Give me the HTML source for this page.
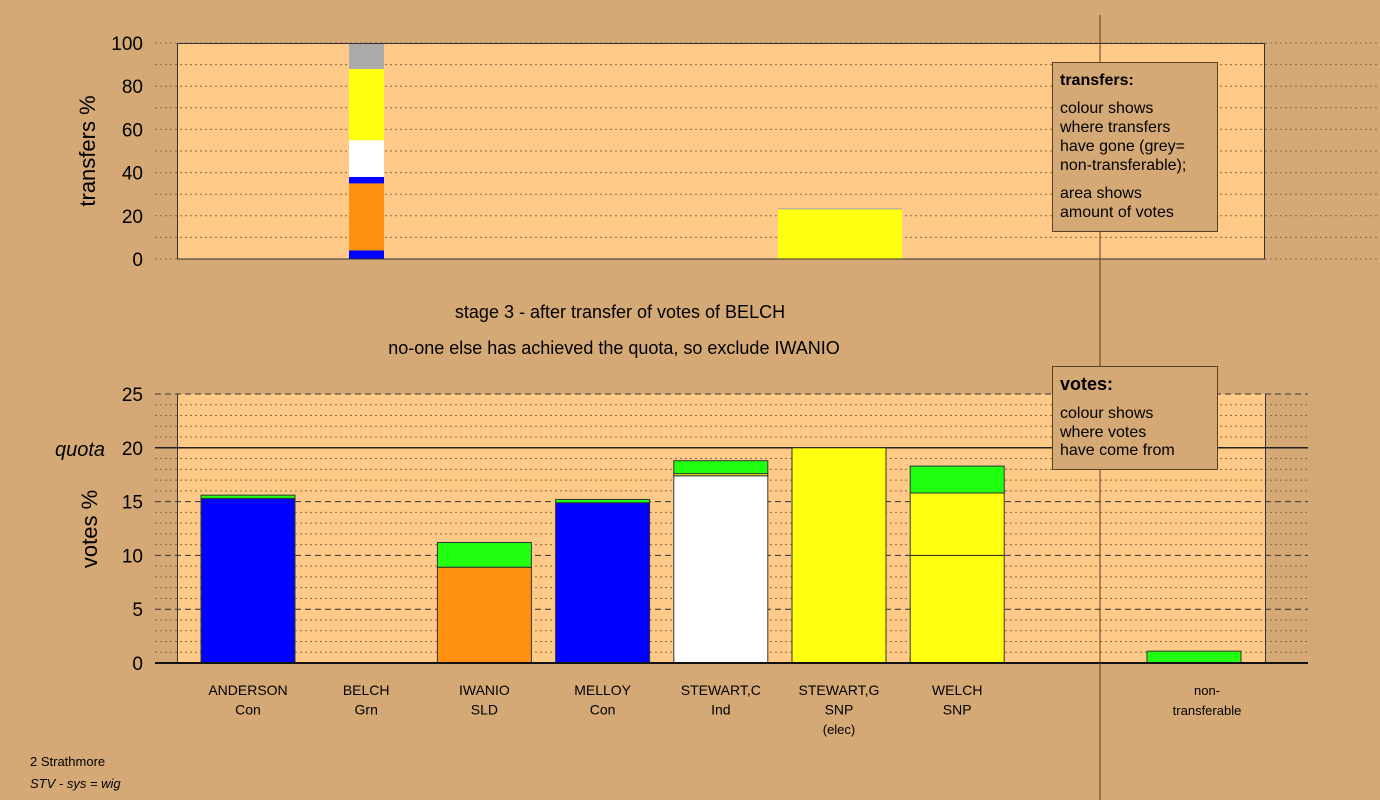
<!DOCTYPE html>
<html><head><meta charset="utf-8"><style>
body{margin:0;background:#d4a975;}
svg{display:block;font-family:"Liberation Sans",sans-serif;}
</style></head><body>
<svg width="1380" height="800" xmlns="http://www.w3.org/2000/svg">
<rect width="1380" height="800" fill="#d4a975"/>
<g id="topchart"></g>
<g id="botchart"></g>
<line x1="1100" y1="15" x2="1100" y2="800" stroke="#5a4020" stroke-width="1"/>
<text x="620" y="318" font-size="18" text-anchor="middle">stage 3 - after transfer of votes of BELCH</text>
<text x="614" y="354" font-size="18" text-anchor="middle">no-one else has achieved the quota, so exclude IWANIO</text>
<text transform="translate(95,151) rotate(-90)" font-size="22" text-anchor="middle">transfers %</text>
<text transform="translate(97,529) rotate(-90)" font-size="22" text-anchor="middle">votes %</text>
<text x="55" y="456" font-size="20" font-style="italic">quota</text>
<g>
<rect x="1052.5" y="62.5" width="165" height="169" fill="#d4a975" stroke="#5a4020"/>
<text x="1060" y="85" font-size="16" font-weight="bold">transfers:</text>
<text font-size="16"><tspan x="1060" y="113">colour shows</tspan><tspan x="1060" y="132">where transfers</tspan><tspan x="1060" y="151">have gone (grey=</tspan><tspan x="1060" y="170">non-transferable);</tspan><tspan x="1060" y="198">area shows</tspan><tspan x="1060" y="217">amount of votes</tspan></text>
</g>
<g>
<rect x="1052.5" y="366.5" width="165" height="103" fill="#d4a975" stroke="#5a4020"/>
<text x="1060" y="390" font-size="18" font-weight="bold">votes:</text>
<text font-size="16"><tspan x="1060" y="418">colour shows</tspan><tspan x="1060" y="437">where votes</tspan><tspan x="1060" y="455">have come from</tspan></text>
</g>
<text x="30" y="766" font-size="13">2 Strathmore</text>
<text x="30" y="788" font-size="13" font-style="italic">STV - sys = wig</text>
<script>
const NS="http://www.w3.org/2000/svg";
const candidates=["ANDERSON","BELCH","IWANIO","MELLOY","STEWART,C","STEWART,G","WELCH"];
const parties=["Con","Grn","SLD","Con","Ind","SNP","SNP"];
const notes=["","","","","","(elec)",""];
const voteBase=[15.3,0,8.9,14.9,17.4,20,10];
const voteBaseColor=["#0000ff","#ff9010","#ff9010","#0000ff","#ffffff","#ffff10","#ffff10"];
const voteMid=[0,0,0,0,0.2,0,5.8];
const voteMidColor=["#ffff10","#ffff10","#ffff10","#ffff10","#ffff10","#ffff10","#ffff10"];
const voteGreen=[0.3,0,2.3,0.3,1.2,0,2.5];
const nonTransferable=[1.1];
const quota=20;
const botTicks=[0,5,10,15,20,25];
const transferBelch=[4,31,3,17,33,12];
const transferBelchColors=["#0000ff","#ff9010","#0000ff","#ffffff","#ffff10","#aaaaaa"];
const transferStewartG=[23,0.5];
const transferStewartGColors=["#ffff10","#aaaaaa"];
const topTicks=[0,20,40,60,80,100];

function mk(p,tag,attrs){const e=document.createElementNS(NS,tag);for(const k in attrs)e.setAttribute(k,attrs[k]);p.appendChild(e);return e;}
const gTop=document.getElementById('topchart'),gBot=document.getElementById('botchart');
const ty=v=>259-v*2.16;
mk(gTop,'rect',{x:177,y:43,width:1088,height:216,fill:'#ffc988'});
for(let v=0;v<=100;v+=10){const l=mk(gTop,'line',{x1:155,x2:1380,y1:ty(v),y2:ty(v),stroke:'#8a6a40','stroke-dasharray':'2,3'});

}
topTicks.forEach(v=>{const t=mk(gTop,'text',{x:143,y:ty(v)+7,'font-size':19,'text-anchor':'end'});t.textContent=v;

});
function stack(g,x,w,vals,cols,name){let acc=0;vals.forEach((v,i)=>{const r=mk(g,'rect',{x:x,y:ty(acc+v),width:w,height:v*2.16,fill:cols[i]});

acc+=v;});}
stack(gTop,349,35,transferBelch,transferBelchColors,'transfer-segment-belch');
stack(gTop,778,124,transferStewartG,transferStewartGColors,'transfer-segment-stewart-g');
mk(gTop,'rect',{x:177.5,y:43.5,width:1087,height:215.5,fill:'none',stroke:'#333'});
const by=v=>663-v*10.76;
mk(gBot,'rect',{x:177,y:394,width:1088,height:269,fill:'#ffc988'});
for(let v=1;v<25;v++){if(v%5==0)continue;const l=mk(gBot,'line',{x1:155,x2:1308,y1:by(v),y2:by(v),stroke:'#8a6a40','stroke-dasharray':'2,3'});

}
[5,10,15,25].forEach(v=>{const l=mk(gBot,'line',{x1:155,x2:1308,y1:by(v),y2:by(v),stroke:'#333','stroke-dasharray':'6,4'});

});
mk(gBot,'line',{x1:177.5,x2:177.5,y1:394,y2:663,stroke:'#333'});
mk(gBot,'line',{x1:1265.5,x2:1265.5,y1:394,y2:663,stroke:'#333'});
const q=mk(gBot,'line',{x1:155,x2:1308,y1:by(quota),y2:by(quota),stroke:'#222','stroke-width':1.5});


botTicks.forEach(v=>{const t=mk(gBot,'text',{x:143,y:by(v)+7,'font-size':19,'text-anchor':'end'});t.textContent=v;

});
function seg(x,w,a,b,c,name){if(b<=0)return;const r=mk(gBot,'rect',{x:x,y:by(a+b),width:w,height:b*10.76,fill:c,stroke:'#333','stroke-width':1});

}
candidates.forEach((c,i)=>{const cx=248+i*118.2,x=cx-47;
seg(x,94,0,voteBase[i],voteBaseColor[i],'bar-base');
seg(x,94,voteBase[i],voteMid[i],voteMidColor[i],'bar-mid');
seg(x,94,voteBase[i]+voteMid[i],voteGreen[i],'#20ff10','bar-green');
const t=mk(gBot,'text',{x:cx,y:695,'font-size':14,'text-anchor':'middle'});


[c,parties[i],notes[i]].forEach((s,k)=>{if(!s)return;const sp=mk(t,'tspan',{x:cx,y:695+k*19.5,'font-size':k==2?13:14});sp.textContent=s;});
});
seg(1147,94,0,nonTransferable[0],'#20ff10','bar-non-transferable');
const nt=mk(gBot,'text',{x:1207,y:695,'font-size':13,'text-anchor':'middle'});


['non-','transferable'].forEach((s,k)=>{const sp=mk(nt,'tspan',{x:1207,y:695+k*20});sp.textContent=s;});
mk(gBot,'line',{x1:155,x2:1308,y1:663,y2:663,stroke:'#111','stroke-width':2});
</script>
</svg>
</body></html>
